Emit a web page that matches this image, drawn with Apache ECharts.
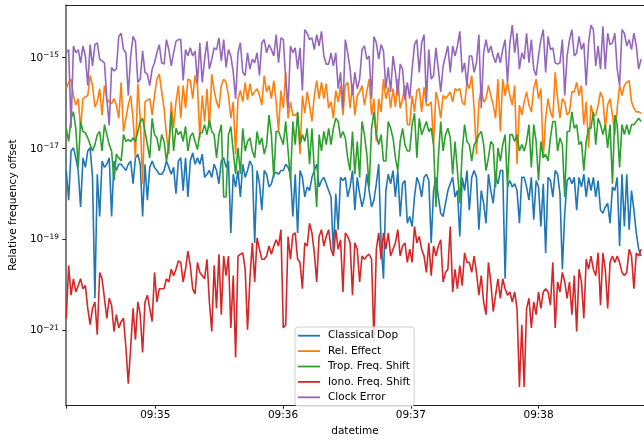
<!DOCTYPE html>
<html><head><meta charset="utf-8">
<script src="https://cdn.jsdelivr.net/npm/echarts@6/dist/echarts.min.js"></script>
<style>html,body{margin:0;padding:0;background:#fff}#c{width:644px;height:442px}</style>
</head><body><div id="c"></div>
<script>
// log10 of relative frequency offset, one value per sample
const seriesNames = ['Classical Dop', 'Rel. Effect', 'Trop. Freq. Shift', 'Iono. Freq. Shift', 'Clock Error'];
const classicalDop = [
-17.49,-18.14,-17.06,-16.99,-17.21,-17.49,-18.29,-17.21,-17.42,-17.06,-16.99,-17.64,-20.30,-17.57,-18.50,-17.28,-17.42,-17.35,-17.21,-18.50,-17.28,-17.49,-17.35,-17.35,-17.42,-17.49,-17.35,-17.28,-17.78,-17.21,-17.13,-17.35,-18.50,-17.35,-18.14,-17.42,-17.28,-17.42,-17.49,-17.57,-17.57,-17.49,-17.28,-17.42,-17.57,-17.42,-18.00,-17.28,
-17.21,-17.93,-17.21,-18.07,-17.28,-17.10,-17.35,-17.21,-17.35,-17.13,-17.64,-17.57,-17.49,-17.64,-17.35,-17.49,-17.78,-17.28,-17.21,-17.42,-17.28,-18.86,-17.57,-17.85,-17.49,-18.07,-17.35,-17.64,-17.49,-17.28,-17.39,-19.08,-17.49,-17.78,-18.36,-17.49,-17.57,-17.85,-17.78,-17.57,-17.53,-17.57,-17.49,-17.49,-17.35,-17.42,-17.57,-18.50,
-17.57,-18.86,-17.49,-17.64,-18.07,-17.85,-17.93,-17.64,-17.49,-17.35,-17.85,-17.71,-17.64,-17.78,-17.93,-18.07,-19.30,-18.00,-18.79,-17.64,-17.71,-17.64,-18.07,-17.85,-17.49,-18.36,-17.64,-18.00,-18.29,-18.07,-17.57,-17.93,-18.29,-18.14,-17.78,-17.35,-19.08,-19.87,-17.93,-17.57,-17.78,-17.49,-18.07,-17.49,-18.50,-17.78,-17.71,-18.65,
-18.50,-18.72,-18.07,-17.64,-17.78,-18.07,-17.64,-17.57,-17.71,-19.08,-17.93,-17.64,-18.07,-18.43,-18.50,-18.21,-17.93,-17.78,-17.64,-18.07,-17.93,-18.94,-17.64,-17.93,-17.49,-18.36,-17.64,-17.49,-17.64,-18.79,-17.93,-18.21,-18.65,-17.57,-17.93,-18.21,-17.64,-17.78,-17.49,-17.49,-19.87,-17.85,-17.71,-17.85,-17.78,-17.93,-18.65,-17.64,
-17.64,-17.85,-18.14,-17.64,-18.57,-17.71,-17.85,-18.72,-17.78,-19.30,-17.64,-17.71,-18.07,-17.49,-17.57,-18.00,-19.66,-18.43,-17.71,-17.64,-17.78,-17.64,-18.36,-17.64,-17.85,-17.57,-18.07,-17.64,-17.93,-17.64,-18.07,-17.71,-18.36,-18.43,-18.29,-18.21,-18.65,-17.85,-17.93,-17.64,-19.15,-17.57,-18.72,-17.57,-18.79,-17.93,-18.36,-18.86,-19.22,-19.37
];
const relEffect = [
-15.69,-15.55,-15.48,-15.84,-16.05,-15.91,-16.56,-15.91,-15.87,-15.84,-15.40,-15.62,-16.09,-15.98,-15.69,-16.27,-15.62,-15.91,-15.98,-16.02,-15.91,-16.05,-16.34,-15.55,-16.63,-16.34,-16.05,-15.84,-16.34,-17.21,-15.58,-16.34,-17.78,-15.98,-15.94,-15.91,-16.27,-15.84,-15.48,-15.37,-15.76,-16.12,-16.70,-17.13,-15.98,-16.56,-15.98,-15.62,
-16.34,-15.62,-16.12,-15.48,-15.51,-15.91,-15.40,-15.62,-16.77,-15.84,-16.41,-15.69,-16.56,-15.37,-15.73,-15.98,-16.12,-15.62,-15.48,-15.55,-15.84,-16.34,-15.98,-17.13,-15.91,-15.73,-15.98,-15.55,-15.94,-15.58,-15.84,-15.76,-15.69,-15.84,-16.05,-15.40,-15.76,-15.62,-15.91,-15.51,-15.98,-16.63,-15.73,-16.12,-15.33,-16.34,-15.98,-16.27,
-16.27,-16.23,-17.13,-15.84,-16.23,-15.76,-16.05,-16.41,-15.84,-15.51,-15.91,-15.55,-15.91,-15.58,-16.12,-15.98,-16.34,-15.73,-15.98,-15.62,-16.27,-15.62,-15.55,-16.12,-15.58,-16.27,-15.84,-15.76,-15.62,-16.05,-15.76,-15.48,-16.27,-15.91,-16.85,-15.91,-16.20,-15.48,-15.91,-15.66,-16.12,-15.69,-16.09,-15.48,-16.12,-15.91,-15.62,-16.48,
-16.48,-15.84,-16.20,-15.73,-15.69,-16.20,-15.66,-16.05,-16.05,-15.98,-16.92,-15.76,-15.98,-16.34,-15.84,-15.91,-15.84,-15.76,-15.98,-15.69,-15.73,-15.69,-15.98,-16.05,-15.55,-15.69,-15.40,-16.12,-17.13,-15.98,-15.69,-15.98,-15.91,-15.62,-15.84,-16.05,-16.34,-15.48,-16.63,-15.48,-15.84,-15.55,-15.84,-16.05,-15.62,-17.35,-16.05,-16.27,
-15.98,-15.76,-16.05,-16.20,-15.69,-15.48,-15.91,-15.69,-17.21,-16.34,-15.91,-16.20,-16.34,-15.33,-15.91,-16.34,-15.91,-15.98,-16.27,-16.20,-15.76,-15.76,-15.55,-15.84,-15.62,-16.48,-15.98,-16.99,-16.05,-16.27,-16.27,-16.05,-15.76,-15.91,-16.56,-16.05,-15.91,-16.27,-16.70,-16.12,-15.62,-15.84,-15.62,-15.55,-15.51,-15.98,-16.12,-16.20,-16.20,-16.23
];
const tropFreqShift = [
-16.56,-16.85,-16.34,-16.20,-16.56,-17.42,-16.41,-16.63,-16.66,-16.77,-16.92,-17.06,-16.92,-16.70,-16.63,-17.06,-16.48,-16.70,-16.92,-17.06,-17.71,-17.13,-17.21,-17.28,-16.70,-16.85,-16.81,-16.85,-16.77,-16.85,-16.63,-16.41,-16.34,-16.63,-16.92,-17.21,-16.34,-16.70,-16.77,-17.06,-16.70,-16.85,-17.28,-16.92,-16.20,-17.06,-16.56,-16.70,
-16.63,-16.85,-16.52,-17.06,-16.74,-16.66,-16.85,-17.03,-16.66,-16.66,-16.48,-16.70,-16.38,-16.63,-16.70,-17.21,-16.70,-16.48,-18.07,-18.07,-16.70,-16.52,-17.06,-17.57,-16.99,-17.57,-16.56,-17.06,-16.85,-16.77,-17.06,-17.21,-16.63,-16.92,-16.77,-17.13,-16.92,-16.27,-16.70,-17.64,-16.63,-16.63,-16.77,-16.92,-16.41,-17.06,-17.71,-16.41,
-16.92,-16.20,-16.92,-16.70,-16.85,-16.56,-17.35,-16.56,-17.49,-18.29,-16.70,-17.06,-16.63,-16.92,-16.56,-16.92,-16.56,-16.34,-16.41,-16.77,-16.63,-16.77,-17.21,-17.49,-16.63,-17.57,-16.85,-17.64,-16.41,-16.70,-17.13,-17.85,-16.56,-16.20,-16.70,-16.92,-16.70,-17.28,-17.28,-16.41,-16.56,-16.77,-17.21,-17.49,-16.85,-16.56,-16.92,-17.06,
-17.06,-16.48,-16.23,-17.21,-16.34,-16.70,-16.56,-16.41,-16.63,-16.56,-16.92,-18.29,-17.21,-16.41,-17.06,-16.70,-16.56,-16.77,-17.57,-16.85,-17.49,-18.21,-17.06,-16.48,-16.85,-16.92,-17.28,-16.92,-16.85,-16.70,-16.63,-16.92,-17.49,-17.21,-16.85,-16.92,-17.85,-16.99,-17.28,-16.92,-16.70,-17.85,-16.70,-16.70,-16.85,-16.70,-17.06,-16.92,
-17.06,-16.85,-16.48,-17.42,-16.48,-16.85,-17.71,-16.85,-17.21,-17.13,-17.28,-16.77,-16.41,-16.41,-17.06,-16.77,-16.92,-18.07,-16.63,-16.63,-16.20,-16.56,-16.48,-16.92,-16.85,-17.49,-16.85,-16.56,-16.56,-16.20,-16.92,-16.34,-16.48,-16.70,-16.48,-16.99,-16.48,-17.78,-16.27,-16.48,-17.42,-16.48,-16.70,-16.48,-16.70,-16.48,-16.48,-16.41,-16.34,-16.41
];
const ionoFreqShift = [
-20.74,-19.58,-20.23,-19.87,-20.16,-20.02,-19.87,-20.09,-20.02,-20.52,-20.88,-20.52,-20.38,-21.10,-19.73,-19.87,-20.30,-20.74,-20.30,-20.45,-21.03,-20.66,-20.95,-20.81,-20.74,-21.38,-22.18,-21.38,-20.52,-21.21,-20.38,-20.66,-21.49,-20.38,-20.23,-20.52,-20.81,-19.73,-20.38,-20.09,-20.09,-20.09,-19.87,-19.94,-19.66,-19.80,-19.66,-19.48,
-19.51,-19.94,-19.66,-19.26,-19.58,-20.09,-20.20,-19.51,-19.73,-19.80,-19.87,-19.44,-20.38,-21.03,-19.58,-20.52,-19.33,-20.66,-19.37,-19.80,-19.37,-20.95,-19.80,-21.60,-19.37,-19.33,-19.30,-19.66,-20.99,-19.87,-19.08,-19.94,-18.97,-19.22,-19.44,-19.44,-19.37,-19.15,-19.33,-19.15,-19.01,-19.15,-18.79,-20.95,-20.88,-18.94,-19.44,-18.90,
-18.86,-19.44,-19.51,-20.09,-19.08,-19.15,-18.65,-18.86,-19.30,-19.94,-18.94,-18.79,-19.15,-18.94,-18.79,-19.22,-19.37,-18.79,-19.22,-19.01,-20.16,-18.86,-18.94,-19.08,-20.23,-19.08,-19.22,-19.94,-19.37,-19.44,-19.37,-19.33,-19.44,-21.24,-19.22,-18.86,-19.44,-18.86,-19.22,-18.86,-19.37,-19.22,-19.08,-18.79,-19.37,-19.15,-19.08,-19.51,
-19.22,-19.51,-18.72,-19.08,-18.94,-19.22,-19.37,-19.73,-19.08,-19.80,-19.15,-19.37,-19.15,-19.01,-19.94,-19.73,-19.66,-18.72,-20.16,-19.66,-20.09,-19.58,-20.02,-19.30,-19.51,-19.51,-19.73,-19.37,-19.73,-20.23,-19.80,-20.38,-20.66,-19.51,-19.94,-20.59,-20.23,-19.87,-20.30,-19.87,-20.09,-20.23,-20.16,-20.38,-20.16,-20.52,-22.25,-20.88,
-22.25,-20.52,-20.30,-20.95,-20.38,-20.66,-20.16,-20.52,-20.16,-20.09,-20.16,-20.45,-19.51,-20.95,-19.94,-20.16,-19.73,-19.94,-20.30,-19.94,-20.66,-19.80,-21.03,-19.66,-19.94,-20.74,-19.44,-19.66,-19.37,-19.66,-19.80,-19.30,-20.45,-19.30,-19.66,-20.52,-19.51,-19.37,-19.51,-19.37,-19.51,-19.73,-19.80,-19.73,-19.22,-19.37,-20.09,-19.30,-19.37,-19.22
];
const clockError = [
-14.90,-14.83,-16.56,-14.75,-14.90,-14.83,-15.12,-14.75,-14.97,-15.62,-14.72,-15.19,-14.72,-14.68,-15.04,-15.08,-15.12,-15.91,-16.50,-15.22,-15.30,-15.26,-14.54,-14.47,-14.83,-14.90,-15.84,-14.97,-14.54,-14.65,-15.55,-15.48,-14.86,-15.33,-15.37,-15.62,-15.26,-15.12,-14.90,-14.72,-15.12,-15.15,-14.61,-14.83,-15.19,-14.90,-14.65,-14.61,
-14.61,-15.51,-14.83,-14.97,-14.79,-14.97,-14.86,-15.58,-14.68,-15.55,-15.04,-14.65,-15.26,-15.04,-14.79,-14.83,-14.57,-15.08,-14.61,-15.22,-14.83,-14.97,-15.33,-15.91,-14.90,-14.68,-15.33,-15.40,-14.90,-15.26,-15.04,-15.12,-14.90,-15.40,-14.68,-14.61,-14.90,-14.72,-14.83,-14.97,-14.50,-15.12,-14.57,-14.61,-15.48,-16.12,-14.75,-14.90,
-14.79,-15.26,-14.79,-15.73,-14.39,-14.47,-14.61,-14.57,-14.83,-14.50,-14.75,-14.43,-14.97,-15.15,-15.15,-14.90,-15.19,-14.90,-15.69,-15.33,-16.12,-14.61,-14.90,-15.26,-15.84,-15.33,-15.69,-15.48,-14.83,-14.75,-15.04,-14.97,-15.91,-14.54,-14.68,-15.04,-14.72,-14.86,-15.69,-15.22,-15.76,-14.97,-15.33,-15.84,-15.15,-15.26,-15.94,-15.55,
-15.91,-15.26,-14.72,-14.61,-15.33,-14.68,-14.50,-15.98,-14.83,-15.48,-15.40,-14.79,-15.26,-15.76,-15.19,-14.97,-14.75,-15.33,-14.75,-14.97,-14.75,-14.43,-15.33,-15.12,-15.62,-14.97,-14.97,-15.33,-15.12,-14.50,-16.12,-14.90,-14.61,-14.90,-14.75,-14.97,-15.12,-14.90,-15.12,-14.83,-14.61,-15.55,-14.68,-14.29,-14.90,-14.47,-15.26,-14.90,
-15.04,-14.47,-15.12,-14.61,-15.26,-15.40,-14.97,-14.61,-14.39,-15.33,-14.54,-14.83,-14.79,-15.12,-15.15,-15.12,-14.61,-15.84,-14.97,-14.61,-14.39,-14.97,-14.90,-14.54,-14.83,-14.68,-15.62,-14.68,-14.29,-14.39,-15.19,-14.75,-15.26,-14.32,-15.26,-14.47,-14.72,-14.68,-14.47,-15.26,-15.62,-14.39,-14.47,-14.75,-14.61,-14.83,-14.47,-14.75,-15.26,-15.04
];
const yTickExponents = [-21, -19, -17, -15];
const xTickLabels = ['09:35', '09:36', '09:37', '09:38'];

const colors = ['#1f77b4', '#ff7f0e', '#2ca02c', '#d62728', '#9467bd'];
const allSeries = [classicalDop, relEffect, tropFreqShift, ionoFreqShift, clockError];

const day = [2024, 0, 1];
const t = (h, m, s, ms) => new Date(day[0], day[1], day[2], h, m, s, ms || 0).getTime();
const startTime = t(9, 34, 18, 200);
const stepMs = 1120;
const times = classicalDop.map((_, i) => startTime + i * stepMs);
const xMin = t(9, 34, 18, 0);
const xMax = t(9, 38, 49, 500);
const xTickValues = xTickLabels.map(s => { const p = s.split(':').map(Number); return t(p[0], p[1], 0); });

const pad2 = n => (n < 10 ? '0' : '') + n;
const font = 'DejaVu Sans';

const chart = echarts.init(document.getElementById('c'), null, {renderer: 'canvas'});
chart.setOption({
  animation: false,
  backgroundColor: '#fff',
  textStyle: {fontFamily: font},
  grid: {left: 62, right: 0, top: 5, bottom: 30, containLabel: false},
  legend: {
    orient: 'vertical', left: 295, top: 327,
    data: seriesNames,
    icon: 'rect', itemWidth: 22, itemHeight: 1.8, itemGap: 3.4,
    padding: [2.7, 4, 2.7, 3],
    backgroundColor: 'rgba(255,255,255,0.8)',
    borderColor: '#d0d0d0', borderWidth: 1, borderRadius: 3,
    textStyle: {fontFamily: font, fontSize: 10.5, color: '#000', lineHeight: 12, padding: [0, 0, 0, 3]},
    selectedMode: false
  },
  xAxis: [{
    type: 'value', min: xMin, max: xMax,
    name: 'datetime', nameLocation: 'middle', nameGap: 18,
    nameTextStyle: {fontFamily: font, fontSize: 10.5, color: '#000'},
    axisLine: {show: true, lineStyle: {color: '#222', width: 1}},
    axisTick: {show: true, length: 3.6, lineStyle: {color: '#222', width: 1}, customValues: [xMin].concat(xTickValues)},
    axisLabel: {show: true, margin: 5, fontFamily: font, fontSize: 10.5, color: '#000', customValues: xTickValues,
      formatter: v => { const d = new Date(v); return pad2(d.getHours()) + ':' + pad2(d.getMinutes()); }},
    splitLine: {show: false}
  }, {
    type: 'value', min: xMin, max: xMax, position: 'top',
    axisLine: {show: true, lineStyle: {color: '#222', width: 1}},
    axisTick: {show: false}, axisLabel: {show: false}, splitLine: {show: false}
  }],
  yAxis: {
    type: 'value', min: -22.648, max: -13.849,
    name: 'Relative frequency offset', nameLocation: 'middle', nameGap: 37,
    nameTextStyle: {fontFamily: font, fontSize: 10.5, color: '#000'},
    axisLine: {show: true, lineStyle: {color: '#555', width: 1.5}},
    axisTick: {show: true, length: 3.6, lineStyle: {color: '#222', width: 1}, customValues: yTickExponents},
    axisLabel: {show: true, margin: 7, customValues: yTickExponents,
      formatter: v => '{b|10}{s|\u2212' + Math.abs(Math.round(v)) + '}',
      rich: {
        b: {fontFamily: font, fontSize: 10.5, color: '#000', lineHeight: 12, verticalAlign: 'bottom'},
        s: {fontFamily: font, fontSize: 7.4, color: '#000', lineHeight: 8, verticalAlign: 'top'}
      }},
    splitLine: {show: false}
  },
  series: allSeries.map((arr, k) => ({
    name: seriesNames[k], type: 'line', xAxisIndex: 0,
    data: arr.map((v, i) => [times[i], v]),
    showSymbol: false, symbol: 'none', silent: true, clip: true,
    lineStyle: {color: colors[k], width: 1.6},
    itemStyle: {color: colors[k]}
  }))
});
</script></body></html>
